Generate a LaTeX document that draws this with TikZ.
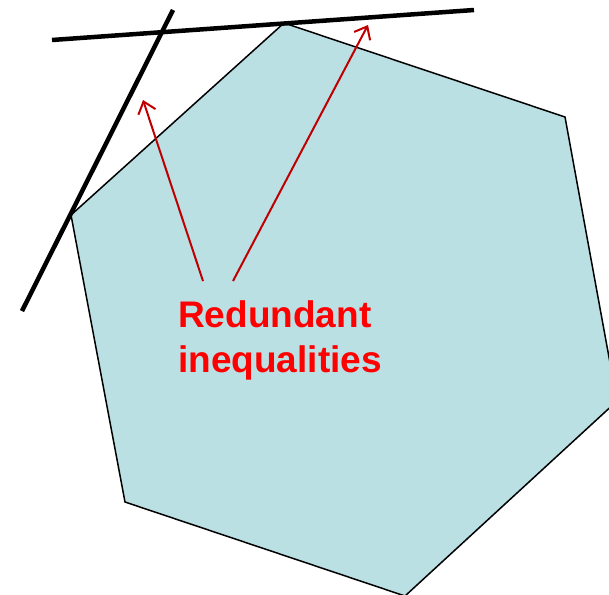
\documentclass[tikz,border=0pt]{standalone}
\usepackage{fontspec}
\setmainfont{Liberation Sans}
\usetikzlibrary{arrows.meta}
\definecolor{hexfill}{RGB}{186,224,228}
\definecolor{arrred}{RGB}{192,0,0}
\definecolor{txtred}{RGB}{255,0,0}
\tikzset{
  poly/.style={fill=hexfill,draw=black,line width=1.5pt,line join=miter},
  bound/.style={draw=black,line width=4.5pt},
  redarrow/.style={draw=arrred,line width=2pt,-{Straight Barb[length=11pt,width=18pt,line width=2pt]}},
  lbl/.style={text=txtred,font=\fontsize{37}{45}\selectfont\bfseries,align=left,anchor=north west,inner sep=0pt}
}
\begin{document}
\begin{tikzpicture}[x=1pt,y=-1pt]
\useasboundingbox (0,0) rectangle (609,594);
\clip (0,0) rectangle (609,594);
\draw[poly] (284,23) -- (565,117) -- (617,401) -- (405,596) -- (125,502) -- (71,215) -- cycle;
\coordinate (a1) at (52,40);
\coordinate (a2) at (474,10);
\coordinate (b1) at (173,10);
\coordinate (b2) at (22,311);
\draw[bound] (a1) -- (a2);
\draw[bound] (b1) -- (b2);
\node[lbl] (t) at (178,300) {Redundant\\inequalities};
\coordinate (s1) at (203,281);
\coordinate (e1) at (143,100);
\coordinate (s2) at (233,281);
\coordinate (e2) at (368,25);
\draw[redarrow] (s1) -- (e1);
\draw[redarrow] (s2) -- (e2);
\end{tikzpicture}
\end{document}
